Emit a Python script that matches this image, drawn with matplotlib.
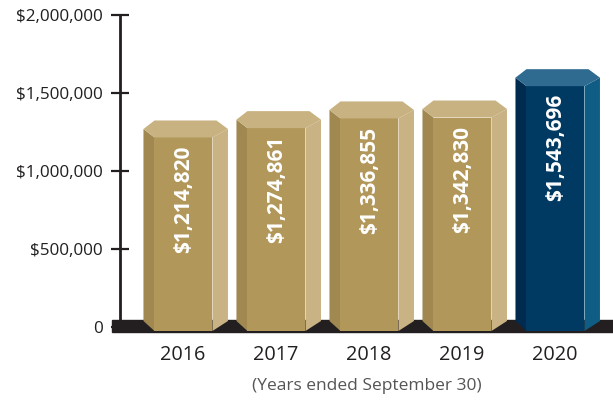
import matplotlib
matplotlib.use("Agg")
import matplotlib.pyplot as plt
from matplotlib.patches import Polygon, Rectangle
from matplotlib.ticker import FuncFormatter

plt.rcParams['font.family'] = ['Open Sans', 'DejaVu Sans']

years = ['2016', '2017', '2018', '2019', '2020']
values = [1214820, 1274861, 1336855, 1342830, 1543696]
value_labels = ['$1,214,820', '$1,274,861', '$1,336,855', '$1,342,830', '$1,543,696']
yticks = [0, 500000, 1000000, 1500000, 2000000]

gold = dict(front='#b2975a', left='#a08850', right='#c9b283', top='#c8b281')
blue = dict(front='#003a62', left='#002a4e', right='#0f5d85', top='#2f6a91')
ink = '#231f20'

W, H = 613, 404
fig = plt.figure(figsize=(W / 100, H / 100), dpi=100)

# axes box: zero at y=327px, 2M at y=15px, spine at x=120px
ax = fig.add_axes([120 / W, (H - 327) / H, 1 - 120 / W, (327 - 15) / H])
ax.set_ylim(0, 2000000)
ax.set_xlim(-0.677, 4.624)

# pixel -> data helpers for the prism geometry
px = 1 / 93.0
py = 2000000 / 312.0

# floor strip
ax.add_patch(Rectangle((-0.763, -5 * py), 6, 12 * py, color=ink,
                       clip_on=False, zorder=1))

for i, (v, lab) in enumerate(zip(values, value_labels)):
    c = blue if i == len(values) - 1 else gold
    fl, fr = i - 28.5 * px, i + 29.5 * px
    ol, orr = i - 39.5 * px, i + 45 * px
    bot_f, bot_s = -4 * py, 6 * py
    front = [(fl, bot_f), (fr, bot_f), (fr, v), (fl, v)]
    left = [(ol, bot_s), (fl, bot_f), (fl, v), (ol, v + 8.5 * py)]
    right = [(fr, bot_f), (orr, bot_s), (orr, v + 8.5 * py), (fr, v)]
    top = [(ol, v + 8.5 * py), (fl, v + 17 * py), (i + 33.5 * px, v + 17 * py),
           (orr, v + 8.5 * py), (fr, v), (fl, v)]
    for pts, col in ((left, c['left']), (right, c['right']),
                     (front, c['front']), (top, c['top'])):
        ax.add_patch(Polygon(pts, closed=True, facecolor=col, edgecolor='none',
                             clip_on=False, zorder=3))
    ax.text(i + 0.5 * px, v - 8 * py, lab, rotation=90, ha='center', va='top',
            color='white', fontsize=15, fontweight='bold', zorder=4)

for s in ('top', 'right', 'bottom'):
    ax.spines[s].set_visible(False)
ax.spines['left'].set_color(ink)
ax.spines['left'].set_linewidth(2)
ax.spines['left'].set_zorder(0.5)

ax.set_yticks(yticks)
ax.yaxis.set_major_formatter(FuncFormatter(lambda v, p: '0' if v == 0 else f'${v:,.0f}'))
ax.tick_params(axis='y', direction='inout', length=13, width=1.6, color=ink,
               labelcolor=ink, labelsize=12.3, pad=6)

ax.set_xticks(range(len(years)))
ax.set_xticklabels(years)
ax.tick_params(axis='x', length=0, pad=13, labelsize=14.3, labelcolor=ink)

ax.set_xlabel('(Years ended September 30)', fontsize=12.5, color='#555555', labelpad=9)

fig.savefig('out.png', dpi=100)
